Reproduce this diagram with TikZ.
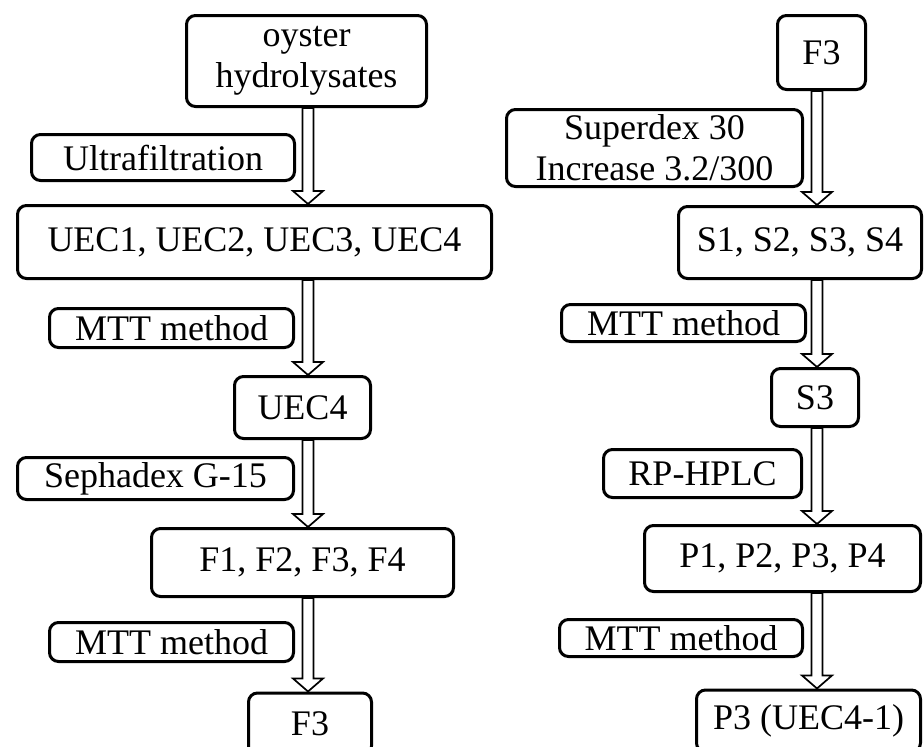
\documentclass[tikz,border=0pt]{standalone}
\usepackage{fontspec}
\setmainfont{Liberation Serif}
\usetikzlibrary{calc, backgrounds}
\tikzset{
    base/.style={draw=black, line width=3pt, font=\fontsize{36}{41}\selectfont, align=center, inner sep=0pt},
    block/.style={base, rectangle, rounded corners=9pt, fill=white},
    hollow/.style={draw=black, line width=1.7pt, fill=white, to path={
        let \p1=(\tikztostart), \p2=(\tikztotarget) in
        (\x1-5.5pt,\y1) -- (\x1-5.5pt,\y2+13pt) -- (\x1-15pt,\y2+13pt) -- (\x2,\y2)
        -- (\x1+15pt,\y2+13pt) -- (\x1+5.5pt,\y2+13pt) -- (\x1+5.5pt,\y1) -- cycle}}
}

\begin{document}
\begin{tikzpicture}[x=1pt, y=-1pt]
    \useasboundingbox (0,0) rectangle (924,747);
    \clip (0,0) rectangle (924,747);

    % left column
    \node [block, minimum width=240, minimum height=91] (oyster) at (306.5,61) {oyster\\hydrolysates};
    \node [block, minimum width=263, minimum height=46] (ultra) at (163,157.5) {Ultrafiltration};
    \node [block, minimum width=474, minimum height=73] (UEC) at (254.5,242) {UEC1, UEC2, UEC3, UEC4};
    \node [block, minimum width=244, minimum height=39] (MTTa) at (171.5,328) {MTT method};
    \node [block, minimum width=136, minimum height=62] (UECf) at (302.5,407.5) {UEC4};
    \node [block, minimum width=276, minimum height=42] (seph) at (155.5,478.5) {Sephadex G-15};
    \node [block, minimum width=302, minimum height=68] (F) at (302.5,562.5) {F1, F2, F3, F4};
    \node [block, minimum width=244, minimum height=39] (MTTb) at (171.5,642) {MTT method};
    \node [block, minimum width=123, minimum height=62] (Fthree) at (310,724) {F3};

    % right column
    \node [block, minimum width=88, minimum height=74] (Ftop) at (821.5,52.5) {F3};
    \node [block, minimum width=296, minimum height=77] (superdex) at (654.5,148) {Superdex 30\\Increase 3.2/300};
    \node [block, minimum width=243, minimum height=72] (S) at (800,242.5) {S1, S2, S3, S4};
    \node [block, minimum width=244, minimum height=37] (MTTc) at (683.5,323) {MTT method};
    \node [block, minimum width=87, minimum height=58] (Sthree) at (815,397.5) {S3};
    \node [block, minimum width=198, minimum height=48] (rp) at (702.5,473.5) {RP-HPLC};
    \node [block, minimum width=276, minimum height=66] (P) at (782.5,558.5) {P1, P2, P3, P4};
    \node [block, minimum width=243, minimum height=37] (MTTd) at (681,638) {MTT method};
    \node [block, minimum width=224, minimum height=62] (Pthree) at (808.5,721) {P3 (UEC4-1)};

    \coordinate (lcol) at (308,0);
    \coordinate (rcol) at (817,0);

    \begin{scope}[on background layer]
        \draw [hollow] (oyster.south -| lcol) to (UEC.north -| lcol);
        \draw [hollow] (UEC.south -| lcol) to (UECf.north -| lcol);
        \draw [hollow] (UECf.south -| lcol) to (F.north -| lcol);
        \draw [hollow] (F.south -| lcol) to (Fthree.north -| lcol);

        \draw [hollow] (Ftop.south -| rcol) to (S.north -| rcol);
        \draw [hollow] (S.south -| rcol) to (Sthree.north -| rcol);
        \draw [hollow] (Sthree.south -| rcol) to (P.north -| rcol);
        \draw [hollow] (P.south -| rcol) to (Pthree.north -| rcol);
    \end{scope}
\end{tikzpicture}
\end{document}
